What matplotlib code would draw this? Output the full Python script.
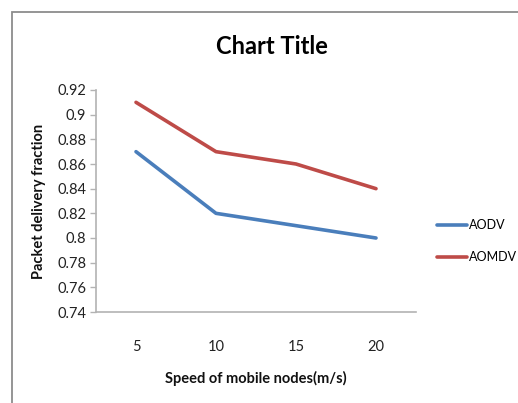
import matplotlib
matplotlib.use("Agg")
import matplotlib.pyplot as plt
from matplotlib.patches import Rectangle

speeds = ["5", "10", "15", "20"]
aodv = [0.87, 0.82, 0.81, 0.80]
aomdv = [0.91, 0.87, 0.86, 0.84]
y_ticks = [0.74, 0.76, 0.78, 0.80, 0.82, 0.84, 0.86, 0.88, 0.90, 0.92]
y_tick_labels = ["0.74", "0.76", "0.78", "0.8", "0.82", "0.84", "0.86", "0.88", "0.9", "0.92"]

plt.rcParams["font.family"] = ["Lato", "DejaVu Sans"]

fig = plt.figure(figsize=(5.18, 4.03), dpi=100)

# outer chart frame (extends past the right/bottom edges)
fig.patches.append(Rectangle((11.5 / 518, -0.1), 1.2, 1 - 11.5 / 403 + 0.1,
                             transform=fig.transFigure, fill=False,
                             edgecolor="#8c8c8c", linewidth=1.3))

ax = fig.add_axes([96 / 518, 1 - 312 / 403, 320 / 518, 222 / 403])
x = list(range(1, len(speeds) + 1))
blue = "#4a7ebb"
red = "#be4b48"
ax.plot(x, aodv, color=blue, linewidth=2.6, label="AODV", solid_capstyle="round")
ax.plot(x, aomdv, color=red, linewidth=2.6, label="AOMDV", solid_capstyle="round")

ax.set_xlim(0.5, 4.5)
ax.set_ylim(0.74, 0.92)
ax.set_xticks(x)
ax.set_xticklabels(speeds)
ax.set_yticks(y_ticks)
ax.set_yticklabels(y_tick_labels)

for side in ("top", "right"):
    ax.spines[side].set_visible(False)
for side in ("left", "bottom"):
    ax.spines[side].set_color("#b3b3b3")
    ax.spines[side].set_linewidth(1.2)

ax.tick_params(axis="y", direction="out", length=4, width=1, color="#b3b3b3",
               labelsize=10.5, labelcolor="#222222", pad=3)
ax.tick_params(axis="x", length=0, labelsize=10.5, labelcolor="#222222", pad=20)

ax.set_xlabel("Speed of mobile nodes(m/s)", fontsize=10.5, fontweight="bold",
              color="#111111", labelpad=12)
ax.set_ylabel("Packet delivery fraction", fontsize=10.5, fontweight="bold",
              color="#111111", labelpad=8)

fig.text(272 / 518, 1 - 46 / 403, "Chart Title", ha="center", va="center",
         fontsize=17, fontweight="bold", color="#000000")

fig.legend(loc="upper left", bbox_to_anchor=(432 / 518, 1 - 214 / 403),
           frameon=False, fontsize=9, handlelength=2.4, handletextpad=0.15,
           labelspacing=1.6, borderaxespad=0)

fig.savefig("out.png", dpi=100)
